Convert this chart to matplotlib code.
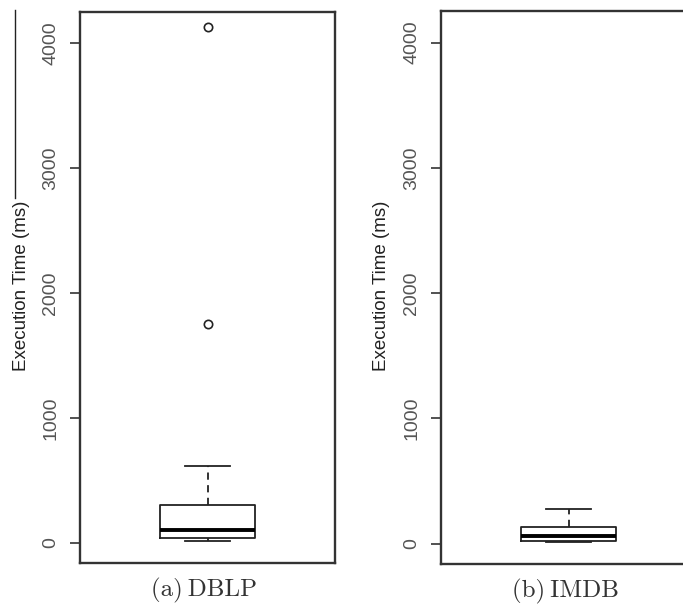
import matplotlib
matplotlib.use("Agg")
import matplotlib.pyplot as plt
from matplotlib.lines import Line2D

# Execution time summaries (ms) for the two datasets
datasets = ["DBLP", "IMDB"]
captions = ["(a)\u2009DBLP", "(b)\u2009IMDB"]
whisker_low = [13, 10]
quartile_1 = [37, 24]
medians = [99, 59]
quartile_3 = [306, 136]
whisker_high = [616, 277]
outliers = [[1752, 4130], []]

y_ticks = [0, 1000, 2000, 3000, 4000]
y_label = "Execution Time (ms)"

W, H = 683, 608
fig = plt.figure(figsize=(W / 100, H / 100), dpi=100)
fig.patch.set_facecolor("white")

frame_color = "#333333"
axes_px = [(80, 12, 335, 563), (441, 11, 696, 564)]
label_x_px = [22, 382]
caption_px = [(204, 590), (565, 591)]

for i, name in enumerate(datasets):
    x0, y0, x1, y1 = axes_px[i]
    ax = fig.add_axes([x0 / W, 1 - y1 / H, (x1 - x0) / W, (y1 - y0) / H])
    stats = [{
        "label": name,
        "whislo": whisker_low[i],
        "q1": quartile_1[i],
        "med": medians[i],
        "q3": quartile_3[i],
        "whishi": whisker_high[i],
        "fliers": outliers[i],
    }]
    ax.bxp(
        stats,
        positions=[0.5],
        widths=[0.373],
        capwidths=[0.18],
        showfliers=True,
        boxprops=dict(color="#222222", linewidth=1.3),
        medianprops=dict(color="black", linewidth=2.8, solid_capstyle="butt"),
        whiskerprops=dict(color="#222222", linewidth=1.3, linestyle=(0, (4, 3))),
        capprops=dict(color="#222222", linewidth=1.3),
        flierprops=dict(marker="o", markersize=6, markerfacecolor="none",
                        markeredgecolor="#222222", markeredgewidth=1.2),
    )
    ax.set_xlim(0, 1)
    ax.set_ylim(-162, 4252)
    ax.set_xticks([])
    ax.set_yticks(y_ticks)
    ax.set_yticklabels([str(t) for t in y_ticks], rotation=90, va="center",
                       fontsize=14, family="Liberation Sans", color="#555555")
    ax.tick_params(axis="y", length=7, width=1.2, pad=8, color=frame_color)
    for sp in ax.spines.values():
        sp.set_color(frame_color)
        sp.set_linewidth(1.7)

    fig.text(label_x_px[i] / W, 1 - 286 / H, y_label, rotation=90,
             ha="center", va="center", fontsize=13.5,
             family="Liberation Sans", color="#222222")
    cx, cy = caption_px[i]
    fig.text(cx / W, 1 - cy / H, captions[i], ha="center", va="center",
             fontsize=18, family=["cmr10", "DejaVu Serif"], color="#333333")

# thin rule at the far left edge
fig.add_artist(Line2D([15 / W, 15 / W], [1 - 10 / H, 1 - 198 / H],
                      transform=fig.transFigure, color="#222222", linewidth=1.0))

fig.savefig("out.png", dpi=100, facecolor="white")
